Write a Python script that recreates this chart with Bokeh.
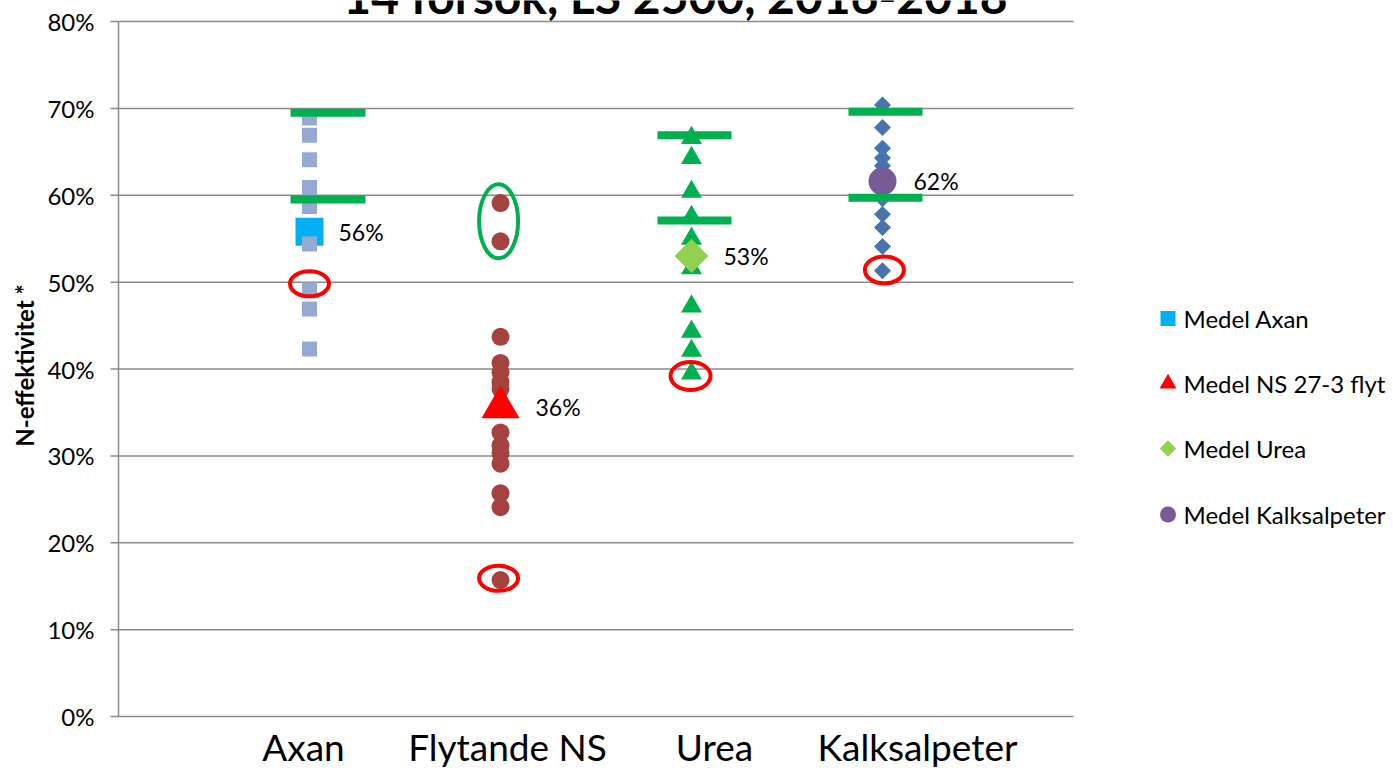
import numpy as np
from bokeh.plotting import figure
from bokeh.models import Range1d, ColumnDataSource
from bokeh.core.properties import value
from bokeh.embed import file_html
from bokeh.resources import INLINE

# ---------------- data ----------------
categories = ["Axan", "Flytande NS", "Urea", "Kalksalpeter"]
cat_x = [1, 2, 3, 4]
axan = [68.9, 66.9, 64.1, 60.9, 58.7, 54.4, 49.1, 46.9, 42.3]
flytande_ns = [59.1, 54.7, 43.7, 40.7, 39.6, 38.5, 37.7, 32.7, 31.2, 30.3,
               29.1, 25.7, 24.1, 15.7]
urea = [66.6, 64.3, 60.4, 57.5, 55.0, 51.6, 47.2, 44.3, 42.1, 39.5]
kalksalpeter = [70.4, 67.8, 65.4, 64.3, 63.4, 59.6, 57.8, 56.3, 54.1, 51.3]
medel = [55.8, 35.6, 53.0, 61.6]
medel_names = ["Medel Axan", "Medel NS 27-3 flyt", "Medel Urea",
               "Medel Kalksalpeter"]
y_ticks = [0, 10, 20, 30, 40, 50, 60, 70, 80]
title_text = "14 försök, LS 2500, 2016-2018"
y_title = "N-effektivitet *"
# annotation levels (green bars and highlighted points)
bar_upper = [69.5, 66.9, 69.6]
bar_lower = [59.5, 57.1, 59.7]
red_ring_y = [49.8, 15.9, 39.2, 51.4]
green_ring_y = 57.0

# ---------------- layout (pixel geometry of the reference) ----------------
FONT = "Lato"
W, H = 1392, 770
AX_LEFT = 118          # pixel of x = 0 (the value axis)
PX_X = 191.0           # pixels per category step
Y0_PX, Y80_PX = 716, 21
PX_Y = (Y0_PX - Y80_PX) / 80.0


def dx(px):
    """canvas x pixel -> data x"""
    return (px - AX_LEFT) / PX_X


def dy(py):
    """canvas y pixel -> data y"""
    return (Y0_PX - py) / PX_Y


p = figure(width=W, height=H, x_range=Range1d(dx(0), dx(W)),
           y_range=Range1d(dy(H), dy(0)),
           output_backend="svg", toolbar_location=None,
           min_border_left=0, min_border_right=0,
           min_border_top=0, min_border_bottom=0)
p.outline_line_color = None
p.background_fill_color = "white"
p.border_fill_color = "white"
p.xaxis.visible = False
p.yaxis.visible = False
p.xgrid.visible = False
p.ygrid.visible = False

GRID = "#8a8a8a"
n_t = len(y_ticks)
# horizontal grid lines, value-axis line and its tick marks
p.segment(x0=[0] * n_t, y0=y_ticks, x1=[5] * n_t, y1=y_ticks,
          line_color=GRID, line_width=1.5)
p.segment(x0=[0], y0=[0], x1=[0], y1=[80], line_color=GRID, line_width=1.5)
p.segment(x0=[dx(AX_LEFT - 8)] * n_t, y0=y_ticks, x1=[0] * n_t, y1=y_ticks,
          line_color=GRID, line_width=1.5)
# tick labels
p.text(x=[dx(94)] * n_t, y=y_ticks, text=[f"{t}%" for t in y_ticks],
       text_align="right", text_baseline="middle", text_font=value(FONT),
       text_font_size="24px", text_color="black")
# axis title
p.text(x=[dx(24)], y=[dy(365)], text=[y_title], angle=np.pi / 2,
       text_align="center", text_baseline="middle", text_font=value(FONT),
       text_font_style="bold", text_font_size="24px", text_color="black")

# ---------------- series ----------------
p.scatter([cat_x[0]], [medel[0]], marker="square", size=28,
          fill_color="#00B0F0", line_color=None)
p.scatter([cat_x[0]] * len(axan), axan, marker="square", size=15,
          fill_color="#95AAD3", line_color=None)

p.scatter([cat_x[1]] * len(flytande_ns), flytande_ns, marker="circle", size=18,
          fill_color="#A3423E", line_color=None)
p.scatter([cat_x[1]], [medel[1]], marker="triangle", size=38,
          fill_color="#FF0000", line_color=None)

p.scatter([cat_x[2]] * len(urea), urea, marker="triangle", size=21,
          fill_color="#00B050", line_color=None)
p.scatter([cat_x[2]], [medel[2]], marker="square", angle=np.pi / 4,
          size=24, fill_color="#92D050", line_color=None)

p.scatter([cat_x[3]] * len(kalksalpeter), kalksalpeter, marker="square",
          angle=np.pi / 4, size=12, fill_color="#4774AC", line_color=None)
p.scatter([cat_x[3]], [medel[3]], marker="circle", size=28,
          fill_color="#775A96", line_color=None)

# green bars
bar_x0 = [dx(290), dx(657), dx(848)]
bar_x1 = [dx(365), dx(731), dx(922)]
p.segment(x0=bar_x0 + bar_x0, y0=bar_upper + bar_lower,
          x1=bar_x1 + bar_x1, y1=bar_upper + bar_lower,
          line_width=8, line_color="#00B050", line_cap="butt")

# highlight rings
ring_x = [1.0, 1.99, 2.995, 4.01]
p.ellipse(x=ring_x, y=red_ring_y, width=[39, 39, 40, 39], height=[25, 25, 28, 27],
          width_units="screen", height_units="screen",
          fill_color=None, line_color="#FF0000", line_width=4)
p.ellipse(x=[1.99], y=[green_ring_y], width=[39], height=[74],
          width_units="screen", height_units="screen",
          fill_color=None, line_color="#00B050", line_width=4)

# data labels
lab_src = ColumnDataSource(dict(x=cat_x, y=medel,
                                t=[f"{round(v)}%" for v in medel],
                                dx=[29, 35, 32, 31]))
p.text(x="x", y="y", text="t", x_offset="dx", source=lab_src,
       text_baseline="middle", text_align="left", text_font=value(FONT),
       text_font_size="23px", text_color="black")

# category labels under the axis
cat_label_x = [dx(303), dx(507), dx(714), dx(917)]
p.text(x=cat_label_x, y=[dy(746)] * 4, text=categories,
       text_align="center", text_baseline="middle", text_font=value(FONT),
       text_font_size="37px", text_color="black")

# title (partly cut at the top, as in the reference)
p.text(x=[dx(675)], y=[dy(-5)], text=[title_text],
       text_align="center", text_baseline="middle", text_font=value(FONT),
       text_font_style="bold", text_font_size="48px", text_color="black")

# legend (drawn by hand so the diamond keeps its rotation)
leg_y = [dy(318), dy(383), dy(448), dy(514)]
leg_mx = dx(1167.5)
p.scatter([leg_mx], [leg_y[0]], marker="square", size=15,
          fill_color="#00B0F0", line_color=None)
p.scatter([leg_mx], [leg_y[1]], marker="triangle", size=17,
          fill_color="#FF0000", line_color=None)
p.scatter([leg_mx], [leg_y[2]], marker="square", angle=np.pi / 4, size=11.5,
          fill_color="#92D050", line_color=None)
p.scatter([leg_mx], [leg_y[3]], marker="circle", size=16,
          fill_color="#775A96", line_color=None)
p.text(x=[dx(1183)] * 4, y=leg_y, text=medel_names,
       text_align="left", text_baseline="middle", text_font=value(FONT),
       text_font_size="24px", text_color="black")

open("out.html", "w").write(file_html(p, INLINE))
